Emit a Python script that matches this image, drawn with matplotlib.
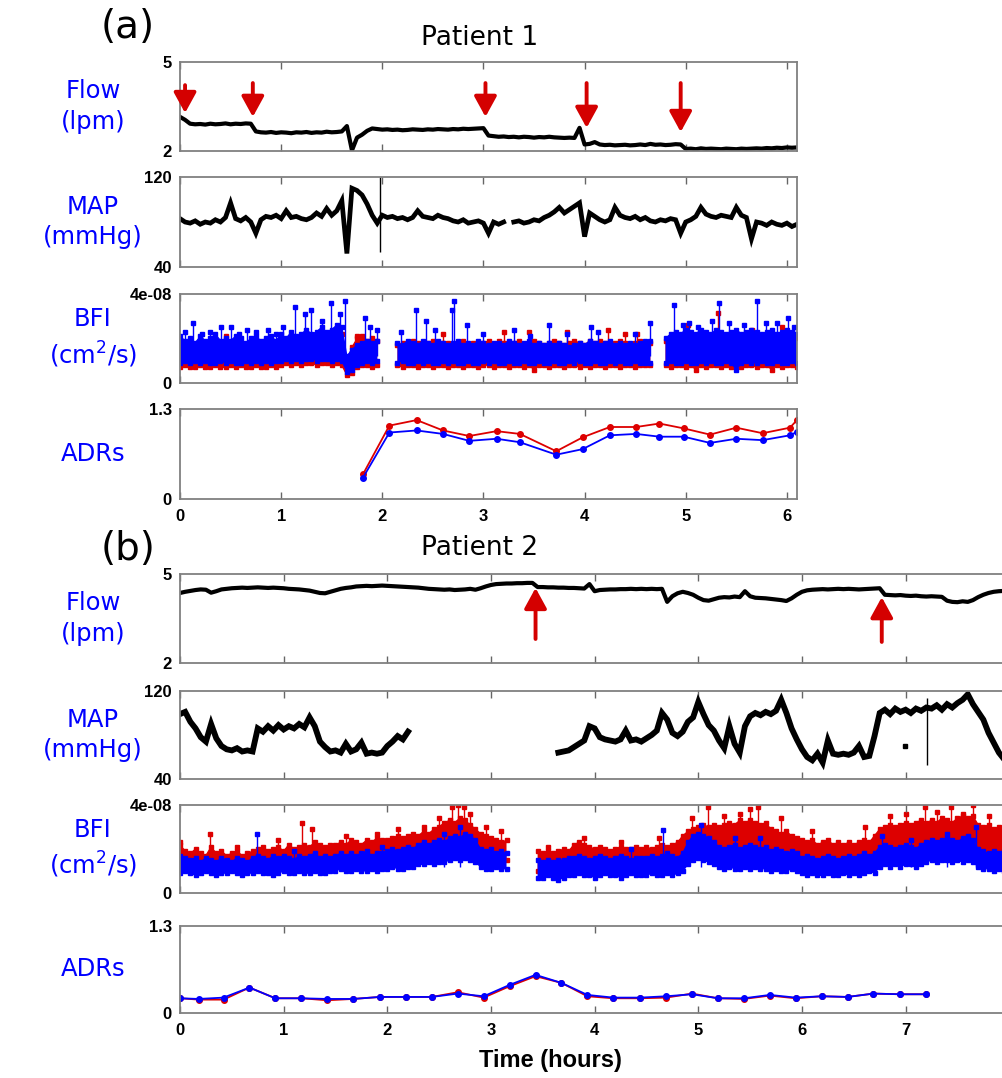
import matplotlib.pyplot as plt
import numpy as np

DT = 0.05  # hours between samples of the monitor traces

RED = "#dd0000"
BLUE = "#0000ff"
ARROW = "#d40000"

# ---------------- Patient 1 ----------------
p1_flow = [3.15, 3.05,
           2.92, 2.90, 2.91, 2.89, 2.92, 2.90, 2.91, 2.93, 2.90, 2.92, 2.91, 2.93,
           2.92,
           2.66, 2.63, 2.62, 2.64, 2.61, 2.63, 2.62, 2.60, 2.63, 2.62, 2.64, 2.61, 2.63, 2.62, 2.65, 2.63, 2.64, 2.66,
           2.84, 2.02, 2.45, 2.55, 2.68, 2.76, 2.74,
           2.72, 2.73, 2.71, 2.72, 2.70, 2.71, 2.73, 2.72, 2.71, 2.73, 2.72, 2.74, 2.73, 2.72, 2.74, 2.73, 2.75, 2.74, 2.75, 2.76,
           2.77, 2.52,
           2.50, 2.48, 2.49, 2.47, 2.48, 2.46, 2.48, 2.47, 2.45, 2.47, 2.46, 2.48, 2.46, 2.45, 2.44, 2.45, 2.44,
           2.78, 2.22, 2.24, 2.30,
           2.22, 2.20, 2.21, 2.19, 2.20, 2.21, 2.19, 2.20, 2.22, 2.20, 2.24, 2.21, 2.22, 2.20, 2.21, 2.23,
           2.22,
           2.07, 2.08, 2.06, 2.09, 2.07, 2.08, 2.07, 2.06, 2.08, 2.07, 2.06, 2.08, 2.07, 2.08, 2.09, 2.08, 2.10, 2.09,
           2.11, 2.10, 2.12, 2.11, 2.12]
p1_arrow_t = [0.05, 0.72, 3.02, 4.02, 4.95]
p1_arrow_tail = [4.22, 4.29, 4.29, 4.29, 4.29]
p1_arrow_tip = [3.28, 3.15, 3.15, 2.78, 2.64]

p1_map = [83, 80, 79, 81, 78, 80, 79, 82, 80, 84,
          97, 83, 81, 84, 80,
          70,
          82, 85, 84, 86, 83, 90, 84, 85, 83, 82,
          84, 88, 85, 92, 86, 90,
          99, 52, 110, 108, 104, 96, 86, 79,
          86, 84, 85, 83, 84, 82, 84, 90, 85, 84,
          83, 86, 84, 83, 81, 80, 82, 79, 80, 81,
          79, 70, 80, 78, 80,
          np.nan,
          80, 81, 79, 80, 82, 81, 84, 86, 89, 93,
          88, 91, 94, 97,
          67,
          88, 85, 82, 80, 82,
          93,
          86, 84, 83, 85, 82, 84, 81, 80, 82, 81, 83, 82,
          70,
          80, 82, 85, 93, 87, 85, 84, 86, 85, 84,
          93, 86, 84, 65,
          80, 79, 77, 80, 78, 77, 79, 76, 78]
p1_map_artifact = (1.98, 53, 120)

# blood flow index, units of 1e-8 cm^2/s (dense band: low / high envelope)
p1_blue_lo = [0.9, 1.0, 0.9, 1.0, 0.9, 1.0, 0.9, 0.9, 1.0, 0.9, 1.0, 0.9, 0.9, 1.0, 0.9, 1.0, 0.9, 1.0, 0.9, 1.0,
              1.0, 1.1, 1.0, 1.1, 1.0, 1.1, 1.1, 1.0, 1.1, 1.1, 1.0, 1.1,
              1.0, 0.5, 0.6, 0.8, 0.9, 1.0, 0.9, 1.0,
              np.nan, np.nan, np.nan,
              0.9, 1.0, 0.9, 0.9, 1.0, 0.9, 1.0, 0.9, 0.9, 1.0,
              0.9, 1.0, 0.9, 0.9, 1.0, 0.9, 0.9, 1.0, 0.9, 1.0,
              0.9, 0.9, 1.0, 0.9, 0.9, 1.0, 0.9, 0.9, 1.0, 0.9,
              0.9, 1.0, 0.9, 0.9, 1.0, 0.9, 1.0, 0.9, 0.9, 1.0,
              0.9, 0.9, 1.0, 0.9, 1.0, 0.9, 0.9, 1.0, 0.9, 0.9,
              0.9, np.nan, np.nan,
              0.9, 1.0, 0.9, 0.9, 1.0, 0.9, 0.9, 1.0, 0.9, 1.0,
              0.9, 0.9, 1.0, 0.9, 0.6, 0.9, 1.0, 0.9, 0.9, 1.0,
              0.9, 0.9, 1.0, 0.9, 0.9, 1.0, 0.9]
p1_blue_hi = [2.1, 1.9, 2.0, 1.8, 2.1, 1.9, 2.0, 2.2, 1.9, 2.0, 1.9, 2.1, 2.0, 1.8, 2.0, 2.1, 1.9, 2.0, 2.1, 1.9,
              2.2, 2.0, 2.3, 2.1, 2.2, 2.4, 2.2, 2.3, 2.5, 2.3, 2.4, 2.6,
              2.5, 1.2, 1.5, 1.7, 1.8, 1.9, 1.8, 1.9,
              np.nan, np.nan, np.nan,
              1.8, 1.7, 1.9, 1.8, 1.7, 1.9, 1.8, 1.7, 1.9, 1.8,
              1.7, 1.8, 1.9, 1.7, 1.8, 1.7, 1.9, 1.8, 1.7, 1.8,
              1.8, 1.7, 1.9, 1.8, 1.7, 1.8, 1.9, 1.7, 1.8, 1.7,
              1.8, 1.7, 1.8, 1.7, 1.6, 1.7, 1.8, 1.7, 1.9, 1.8,
              1.7, 1.8, 1.9, 1.7, 1.8, 1.7, 1.8, 1.7, 1.8, 1.9,
              1.9, np.nan, np.nan,
              2.0, 2.2, 2.3, 2.2, 2.4, 2.3, 2.2, 2.4, 2.3, 2.2,
              2.4, 2.3, 2.2, 2.3, 2.4, 2.2, 2.3, 2.4, 2.3, 2.2,
              2.3, 2.4, 2.2, 2.3, 2.4, 2.3, 2.2]
p1_red_lo = [0.7, 0.8, 0.7, 0.7, 0.8, 0.7, 0.7, 0.8, 0.7, 0.7, 0.8, 0.7, 0.8, 0.7, 0.7, 0.8, 0.7, 0.7, 0.8, 0.7,
             0.8, 0.9, 0.8, 0.9, 0.8, 0.9, 0.9, 0.8, 0.9, 0.9, 0.8, 0.9,
             0.8, 0.35, 0.45, 0.7, 0.8, 0.8, 0.7, 0.8,
             np.nan, np.nan, np.nan,
             0.8, 0.7, 0.8, 0.8, 0.7, 0.8, 0.8, 0.7, 0.8, 0.8,
             0.7, 0.8, 0.8, 0.7, 0.8, 0.8, 0.7, 0.8, 0.8, 0.7,
             0.8, 0.8, 0.7, 0.8, 0.8, 0.7, 0.8, 0.6, 0.8, 0.8,
             0.7, 0.8, 0.8, 0.7, 0.8, 0.8, 0.7, 0.8, 0.7, 0.8,
             0.8, 0.7, 0.8, 0.8, 0.7, 0.8, 0.8, 0.7, 0.8, 0.8,
             0.8, np.nan, np.nan,
             0.8, 0.7, 0.8, 0.8, 0.7, 0.8, 0.6, 0.8, 0.7, 0.8,
             0.8, 0.7, 0.8, 0.7, 0.8, 0.7, 0.8, 0.8, 0.7, 0.8,
             0.8, 0.6, 0.8, 0.7, 0.8, 0.8, 0.7]
p1_red_hi = [1.8, 1.7, 1.9, 1.7, 1.8, 1.7, 1.9, 1.8, 1.7, 1.8, 1.7, 1.9, 1.8, 1.7, 1.8, 1.9, 1.7, 1.8, 1.9, 1.8,
             1.9, 1.8, 2.0, 1.9, 2.0, 2.1, 2.0, 2.1, 2.2, 2.0, 2.1, 2.2,
             2.2, 1.0, 1.6, 2.0, 2.1, 1.9, 2.0, 1.9,
             np.nan, np.nan, np.nan,
             1.7, 1.8, 1.7, 1.9, 1.8, 1.7, 1.8, 1.9, 1.7, 1.8,
             1.8, 1.7, 1.8, 1.9, 1.7, 1.8, 1.7, 1.8, 1.9, 1.7,
             1.9, 1.8, 1.7, 1.8, 1.9, 1.7, 1.8, 1.9, 1.8, 1.7,
             1.8, 1.9, 1.8, 1.7, 1.8, 1.9, 1.8, 1.7, 1.9, 1.8,
             1.9, 1.8, 1.7, 1.8, 1.9, 1.8, 1.7, 1.8, 1.9, 1.8,
             1.8, np.nan, np.nan,
             1.9, 2.0, 2.1, 2.0, 2.2, 2.1, 2.0, 2.2, 2.1, 2.0,
             2.2, 2.1, 2.0, 2.1, 2.2, 2.0, 2.1, 2.2, 2.1, 2.0,
             2.1, 2.2, 2.0, 2.1, 2.2, 2.1, 2.0]
p1_blue_spike_t = [0.05, 0.13, 0.22, 0.30, 0.41, 0.50, 0.58, 0.66, 0.75, 0.87, 0.95,
                   1.02, 1.14, 1.24, 1.30, 1.40, 1.49, 1.58, 1.63, 1.83, 1.88, 1.95,
                   2.18, 2.33, 2.43, 2.52, 2.69, 2.71, 2.84, 3.00, 3.30, 3.46, 3.65, 3.83,
                   4.06, 4.13, 4.50, 4.65, 4.88, 4.97, 5.03, 5.12, 5.26, 5.33, 5.43, 5.58,
                   5.70, 5.79, 5.90, 6.01, 6.07]
p1_blue_spike_v = [2.3, 2.7, 2.2, 2.3, 2.5, 2.5, 2.2, 2.4, 2.3, 2.4, 2.2,
                   2.5, 3.4, 3.1, 3.3, 2.8, 3.6, 3.1, 3.7, 2.9, 2.5, 2.4,
                   2.3, 3.3, 2.8, 2.4, 3.3, 3.7, 2.6, 2.2, 2.4, 2.1, 2.6, 2.2,
                   2.5, 2.3, 2.2, 2.7, 3.5, 2.6, 2.7, 2.5, 2.8, 3.6, 2.7, 2.6,
                   3.7, 2.7, 2.7, 2.9, 2.5]
p1_red_spike_t = [0.45, 1.75, 2.60, 3.20, 3.45, 3.83, 4.23, 4.40, 4.52, 5.02, 5.32, 5.66, 5.95]
p1_red_spike_v = [2.1, 2.1, 2.2, 2.3, 2.3, 2.3, 2.4, 2.2, 2.2, 2.6, 3.15, 2.4, 2.5]

p1_adr_t = [1.81, 2.07, 2.34, 2.60, 2.86, 3.13, 3.36, 3.72, 3.98, 4.25, 4.51, 4.74, 4.98, 5.24, 5.50, 5.76, 6.03, 6.10]
p1_adr_red = [0.36, 1.06, 1.14, 0.99, 0.91, 0.98, 0.94, 0.69, 0.89, 1.04, 1.04, 1.09, 1.02, 0.93, 1.03, 0.95, 1.03, 1.14]
p1_adr_blue = [0.31, 0.96, 0.99, 0.94, 0.84, 0.87, 0.82, 0.64, 0.72, 0.92, 0.94, 0.90, 0.90, 0.81, 0.87, 0.85, 0.92, 0.97]

# ---------------- Patient 2 ----------------
p2_flow = [4.36, 4.40, 4.43, 4.46, 4.48, 4.47,
           4.37, 4.42,
           4.48, 4.50, 4.52, 4.53, 4.54, 4.53, 4.54, 4.55, 4.54, 4.53, 4.54, 4.53, 4.52, 4.50, 4.49, 4.48,
           4.46, 4.44, 4.40, 4.36, 4.35, 4.40,
           4.45, 4.50, 4.53, 4.55, 4.58, 4.59, 4.60, 4.59, 4.60, 4.61, 4.60, 4.59, 4.58, 4.57, 4.56, 4.55,
           4.54, 4.52, 4.50, 4.49,
           4.48, 4.47, 4.48, 4.46, 4.47, 4.48, 4.50, 4.47, 4.52, 4.58, 4.63, 4.66,
           4.67, 4.68, 4.68, 4.69, 4.69, 4.70, 4.70,
           4.56, 4.56, 4.55, 4.55, 4.54, 4.54, 4.53, 4.53, 4.52, 4.51,
           4.66, 4.42,
           4.46, 4.47, 4.48, 4.48, 4.49, 4.49, 4.50, 4.49, 4.50, 4.49, 4.50, 4.49, 4.50,
           4.06, 4.25, 4.35, 4.40, 4.36, 4.30,
           4.20, 4.12, 4.10, 4.15, 4.20, 4.22, 4.21, 4.24, 4.22,
           4.42, 4.25,
           4.20, 4.19, 4.18, 4.16, 4.14, 4.12, 4.09,
           4.18, 4.30, 4.40, 4.45, 4.47, 4.48, 4.49, 4.48, 4.49, 4.50, 4.49, 4.50, 4.49, 4.48, 4.49, 4.50,
           4.51, 4.52,
           4.30, 4.29, 4.28, 4.29, 4.27, 4.26, 4.27, 4.25, 4.24, 4.25, 4.24, 4.23,
           4.10, 4.06, 4.05, 4.08, 4.06, 4.12,
           4.22, 4.30, 4.36, 4.40, 4.42, 4.43]
p2_arrow_t = [3.43, 6.77]
p2_arrow_tail = [2.81, 2.71]
p2_arrow_tip = [4.53, 4.22]

p2_map = [99, 101, 92, 86, 78, 74, 90, 77, 70, 67, 66, 68, 65, 66, 65,
          86, 83, 88, 84, 89, 85, 88, 86, 90, 87, 96, 88,
          74, 69, 65, 66, 64, 72, 65, 67, 73, 63, 64, 63, 64,
          70, 74, 79, 76, 83] + [np.nan] * 28 + [
          64, 65, 66, 69, 72, 75, 88, 86, 78, 76, 75, 74, 76, 84, 75, 76, 74, 77, 80, 84,
          100, 94, 82, 79, 83, 92, 96, 110, 99, 89, 84, 75, 68, 88, 72, 64,
          88, 97, 100, 98, 101, 99, 102, 112, 100, 86, 76, 67, 60, 57, 63, 55,
          75, 63, 62, 63, 62, 64, 70, 60, 61, 79,
          100, 103, 99, 104, 101, 103, 100, 104, 102, 105, 104, 107, 103, 108, 105, 109,
          112, 117, 108, 101, 94, 82, 73, 64, 58]
p2_map_artifact = (7.21, 53, 114)
p2_map_outlier = (6.99, 70)

p2_blue_lo = [0.9, 1.0, 0.9, 0.8, 0.9, 1.0, 0.9, 0.8, 0.9, 0.9, 1.0, 0.9, 0.8, 0.9,
              0.9, 1.0, 0.9, 0.9, 0.8, 0.9, 1.0, 0.9, 0.9, 1.0, 0.9, 0.9, 1.0, 0.9, 0.9, 1.0,
              1.0, 1.1, 1.0, 1.0, 1.1, 1.0, 1.0, 1.1, 1.0, 1.1,
              1.1, 1.2, 1.1, 1.1, 1.2, 1.2,
              1.3, 1.3, 1.4, 1.3, 1.4, 1.4,
              1.5, 1.6, 1.5, 1.6, 1.5, 1.4,
              1.2, 1.1, 1.1, 1.2, 1.1, 1.1,
              np.nan, np.nan, np.nan, np.nan, np.nan,
              0.7, 0.7, 0.8, 0.7, 0.6, 0.7, 0.8,
              0.8, 0.9, 0.8, 0.8, 0.7, 0.8, 0.9, 0.8, 0.8, 0.7, 0.8, 0.9, 0.8, 0.8,
              0.8, 0.9, 0.8, 0.8, 0.9, 0.8, 0.9, 1.0,
              1.3, 1.5, 1.6, 1.5, 1.4, 1.3,
              1.2, 1.1, 1.2, 1.1, 1.1, 1.2, 1.1, 1.2, 1.1, 1.1,
              1.0, 1.1, 1.0, 1.0, 1.1, 1.0,
              0.9, 0.8, 0.9, 0.8, 0.8, 0.9, 0.8, 0.8, 0.9, 0.8, 0.9, 0.8,
              0.9, 1.0, 0.9,
              1.2, 1.3, 1.2, 1.3, 1.2, 1.3, 1.3, 1.2, 1.3,
              1.4, 1.5, 1.4, 1.5, 1.5, 1.4, 1.5, 1.4, 1.5, 1.4,
              1.2, 1.1, 1.1, 1.0, 1.1, 1.0]
p2_blue_hi = [1.7, 1.6, 1.5, 1.6, 1.4, 1.6, 1.5, 1.4, 1.6, 1.5, 1.4, 1.6, 1.5, 1.4,
              1.6, 1.7, 1.6, 1.5, 1.7, 1.6, 1.7, 1.6, 1.5, 1.7, 1.6, 1.7, 1.8, 1.6, 1.7, 1.6,
              1.7, 1.8, 1.7, 1.8, 1.7, 1.8, 1.9, 1.7, 1.8, 1.8,
              1.9, 2.0, 1.9, 2.0, 2.1, 2.0,
              2.2, 2.3, 2.2, 2.3, 2.4, 2.3,
              2.5, 2.6, 2.5, 2.7, 2.6, 2.4,
              2.0, 1.9, 2.0, 1.8, 1.9, 1.8,
              np.nan, np.nan, np.nan, np.nan, np.nan,
              1.5, 1.4, 1.5, 1.4, 1.5, 1.5, 1.6,
              1.6, 1.7, 1.6, 1.5, 1.6, 1.7, 1.6, 1.5, 1.6, 1.7, 1.6, 1.5, 1.6, 1.6,
              1.6, 1.7, 1.6, 1.7, 1.8, 1.7, 1.6, 1.8,
              2.3, 2.6, 2.7, 2.6, 2.5, 2.3,
              2.1, 2.0, 2.1, 2.2, 2.0, 2.1, 2.2, 2.1, 2.0, 2.1,
              1.9, 2.0, 1.9, 1.8, 1.9, 1.8,
              1.6, 1.7, 1.6, 1.5, 1.6, 1.7, 1.6, 1.5, 1.6, 1.7, 1.6, 1.7,
              1.8, 1.7, 1.8,
              2.1, 2.2, 2.1, 2.0, 2.1, 2.2, 2.1, 2.0, 2.2,
              2.3, 2.4, 2.3, 2.4, 2.5, 2.4, 2.3, 2.5, 2.6, 2.4,
              2.0, 1.9, 1.8, 1.9, 1.8, 1.9]
p2_red_lo = [1.2, 1.3, 1.2, 1.1, 1.2, 1.3, 1.2, 1.1, 1.2, 1.2, 1.3, 1.2, 1.1, 1.2,
             1.2, 1.3, 1.2, 1.2, 1.1, 1.2, 1.3, 1.2, 1.2, 1.3, 1.2, 1.2, 1.3, 1.2, 1.2, 1.3,
             1.3, 1.4, 1.3, 1.3, 1.4, 1.3, 1.3, 1.4, 1.3, 1.4,
             1.4, 1.5, 1.4, 1.5, 1.6, 1.6,
             1.7, 1.8, 1.9, 1.8, 1.9, 2.0,
             2.1, 2.2, 2.1, 2.2, 2.0, 1.9,
             1.6, 1.5, 1.5, 1.6, 1.5, 1.5,
             np.nan, np.nan, np.nan, np.nan, np.nan,
             1.0, 1.0, 1.1, 1.0, 0.9, 1.0, 1.1,
             1.1, 1.2, 1.1, 1.1, 1.0, 1.1, 1.2, 1.1, 1.1, 1.0, 1.1, 1.2, 1.1, 1.1,
             1.1, 1.2, 1.1, 1.1, 1.2, 1.1, 1.2, 1.3,
             1.8, 2.0, 2.1, 2.0, 1.9, 1.8,
             1.6, 1.5, 1.6, 1.5, 1.6, 1.7, 1.6, 1.7, 1.6, 1.5,
             1.4, 1.5, 1.4, 1.4, 1.5, 1.4,
             1.2, 1.1, 1.2, 1.1, 1.1, 1.2, 1.1, 1.1, 1.2, 1.1, 1.2, 1.1,
             1.2, 1.3, 1.2,
             1.6, 1.7, 1.6, 1.7, 1.6, 1.7, 1.7, 1.6, 1.7,
             1.9, 2.0, 1.9, 2.0, 2.0, 1.9, 2.0, 1.9, 2.0, 1.9,
             1.6, 1.5, 1.5, 1.4, 1.5, 1.4]
p2_red_hi = [2.2, 1.9, 1.8, 2.0, 1.8, 1.7, 2.1, 1.8, 1.9, 1.7, 1.8, 1.9, 1.7, 1.8,
             1.9, 2.0, 2.1, 1.9, 2.0, 2.1, 1.9, 2.2, 2.0, 2.1, 2.2, 2.1, 2.3, 2.2, 2.1, 2.2,
             2.2, 2.3, 2.2, 2.4, 2.3, 2.2, 2.4, 2.3, 2.5, 2.4,
             2.4, 2.5, 2.6, 2.5, 2.6, 2.7,
             2.6, 2.8, 2.7, 2.9, 3.0, 3.2,
             3.3, 3.2, 3.4, 3.3, 3.1, 2.9,
             2.7, 2.6, 2.5, 2.4, 2.3, 2.4,
             np.nan, np.nan, np.nan, np.nan, np.nan,
             1.9, 1.8, 1.9, 1.8, 1.9, 2.0, 1.9,
             2.2, 2.3, 2.2, 2.1, 2.0, 2.1, 2.0, 1.9, 2.0, 2.1, 2.0, 2.0, 2.1, 2.0,
             2.1, 2.0, 2.1, 2.2, 2.1, 2.2, 2.3, 2.6,
             2.8, 2.9, 3.0, 3.1, 3.0, 3.1,
             3.0, 3.1, 3.2, 3.1, 3.3, 3.2, 3.3, 3.2, 3.1, 3.2,
             2.9, 2.8, 2.7, 2.8, 2.6, 2.5,
             2.4, 2.3, 2.4, 2.2, 2.3, 2.4, 2.2, 2.3, 2.2, 2.3, 2.2, 2.3,
             2.4, 2.3, 2.6,
             2.9, 3.0, 3.1, 3.0, 3.1, 3.2, 3.1, 3.2, 3.3,
             3.2, 3.3, 3.2, 3.4, 3.3, 3.2, 3.4, 3.5, 3.4, 3.5,
             3.1, 3.0, 3.1, 2.9, 3.0, 2.9]
p2_red_spike_t = [0.00, 0.29, 0.55, 0.95, 1.18, 1.27, 1.60, 1.90, 2.10, 2.35, 2.50, 2.62, 2.68,
                  2.74, 2.80, 2.95, 3.10, 3.55, 3.90, 4.25, 4.62, 4.94, 5.09, 5.25, 5.40, 5.50,
                  5.58, 5.80, 6.10, 6.61, 6.85, 7.00, 7.19, 7.30, 7.44, 7.55, 7.65, 7.80]
p2_red_spike_v = [2.3, 2.7, 2.1, 2.4, 3.2, 2.9, 2.6, 2.7, 2.9, 3.0, 3.4, 3.9, 4.0,
                  3.9, 3.6, 3.0, 2.8, 2.1, 2.5, 2.3, 2.5, 3.4, 3.9, 3.5, 3.6, 3.8,
                  3.9, 3.4, 2.8, 3.0, 3.5, 3.6, 3.9, 3.7, 3.9, 3.6, 4.0, 3.5]
p2_blue_spike_t = [0.74, 1.10, 1.95, 2.55, 2.70, 4.35, 4.66, 5.03, 5.35, 5.60, 6.77, 7.05, 7.40, 7.68]
p2_blue_spike_v = [2.7, 1.9, 2.1, 2.7, 3.0, 2.0, 2.85, 3.1, 2.5, 2.5, 2.6, 2.4, 2.7, 3.0]

p2_adr_t = [0.00, 0.18, 0.42, 0.67, 0.92, 1.17, 1.42, 1.67, 1.93, 2.18, 2.43, 2.68, 2.93, 3.18, 3.43,
            3.68, 3.93, 4.18, 4.44, 4.69, 4.94, 5.19, 5.44, 5.69, 5.94, 6.19, 6.44, 6.69, 6.95, 7.20]
p2_adr_red = [0.22, 0.20, 0.20, 0.38, 0.22, 0.22, 0.19, 0.21, 0.24, 0.24, 0.24, 0.31, 0.23, 0.40, 0.55,
              0.45, 0.25, 0.22, 0.22, 0.23, 0.29, 0.22, 0.21, 0.26, 0.22, 0.25, 0.24, 0.29, 0.28, 0.28]
p2_adr_blue = [0.22, 0.21, 0.23, 0.38, 0.22, 0.22, 0.21, 0.21, 0.24, 0.24, 0.24, 0.29, 0.25, 0.42, 0.57,
               0.45, 0.27, 0.23, 0.23, 0.25, 0.28, 0.22, 0.22, 0.27, 0.23, 0.25, 0.24, 0.29, 0.28, 0.28]

row_labels = ["Flow\n(lpm)", "MAP\n(mmHg)", "BFI\n(cm$^2$/s)", "ADRs"]
row_ylims = [(2, 5), (40, 120), (0, 4), (0, 1.3)]
row_yticklabels = [["2", "5"], ["40", "120"], ["0", "4e-08"], ["0", "1.3"]]

# ---------------- layout (pixels of a 1002 x 1078 canvas) ----------------
W, H = 1002, 1078
fig = plt.figure(figsize=(W / 100, H / 100), dpi=100)


def px_axes(left, top, right, bottom):
    return fig.add_axes([left / W, 1 - bottom / H, (right - left) / W, (bottom - top) / H])


def style(ax, xmax, row, show_x, right_spine=True):
    ax.set_xlim(0, xmax)
    ax.set_ylim(*row_ylims[row])
    ax.set_yticks(row_ylims[row])
    ax.set_yticklabels(row_yticklabels[row])
    ax.set_xticks(range(0, int(xmax) + 1))
    ax.tick_params(axis="x", direction="in", top=True, length=5, width=1.0,
                   color="#666666", labelbottom=show_x, pad=7, labelsize=12)
    ax.tick_params(axis="y", length=0, pad=6, labelsize=12)
    for lbl in ax.get_xticklabels() + ax.get_yticklabels():
        lbl.set_family("Liberation Sans")
        lbl.set_weight("bold")
    for name, sp in ax.spines.items():
        sp.set_color("#808080")
        sp.set_linewidth(1.3)
    if not right_spine:
        ax.spines["right"].set_visible(False)


def draw_bfi(ax, lo, hi, sp_t, sp_v, color, base, z):
    t = np.arange(len(lo)) * DT
    ax.vlines(sp_t, base, sp_v, color=color, lw=1.0, zorder=z)
    ax.plot(sp_t, sp_v, "s", ms=2.6, color=color, zorder=z)
    ax.fill_between(t, lo, hi, color=color, lw=0, zorder=z + 0.1)
    ax.plot(t, hi, "-s", ms=2.2, lw=0.9, color=color, zorder=z + 0.1)
    ax.plot(t, lo, "-s", ms=2.2, lw=0.9, color=color, zorder=z + 0.1)


def arrows(ax, ts, tails, tips):
    for t, a, b in zip(ts, tails, tips):
        ax.annotate("", xy=(t, b), xytext=(t, a),
                    arrowprops=dict(arrowstyle="-|>,head_width=0.34,head_length=0.62",
                                    lw=2.8, color=ARROW, mutation_scale=20,
                                    shrinkA=0, shrinkB=0))


def patient(tops, right, xmax, flow, arr, mp, map_lw, art, bfi, adr, full_right=True):
    axs = [px_axes(180, top, right, bot) for top, bot in tops]

    t = np.arange(len(flow)) * DT
    axs[0].plot(t, flow, color="k", lw=3.0)
    arrows(axs[0], *arr)

    t = np.arange(len(mp)) * DT
    axs[1].plot(t, mp, color="k", lw=map_lw, solid_joinstyle="miter")
    axs[1].vlines(art[0], art[1], art[2], color="k", lw=1.0)

    (rlo, rhi, rst, rsv), (blo, bhi, bst, bsv), rbase, bbase = bfi
    draw_bfi(axs[2], rlo, rhi, rst, rsv, RED, rbase, 1)
    draw_bfi(axs[2], blo, bhi, bst, bsv, BLUE, bbase, 2)

    at, ar, ab = adr
    axs[3].plot(at, ar, "-o", color=RED, ms=4, lw=1.3)
    axs[3].plot(at, ab, "-o", color=BLUE, ms=4, lw=1.3)

    for i, ax in enumerate(axs):
        style(ax, xmax, i, show_x=(i == 3), right_spine=full_right)
        top, bot = tops[i]
        fig.text(93 / W, 1 - (top + bot) / 2 / H, row_labels[i], color=BLUE, fontsize=17.5,
                 ha="center", va="center", linespacing=1.35)
    return axs


p1_axes = patient([(62, 151), (177, 267), (294, 383), (409, 499)], 797, 6.1,
                  p1_flow, (p1_arrow_t, p1_arrow_tail, p1_arrow_tip),
                  p1_map, 3.4, p1_map_artifact,
                  ((p1_red_lo, p1_red_hi, p1_red_spike_t, p1_red_spike_v),
                   (p1_blue_lo, p1_blue_hi, p1_blue_spike_t, p1_blue_spike_v), 1.2, 1.2),
                  (p1_adr_t, p1_adr_red, p1_adr_blue))

p2_axes = patient([(574, 663), (691, 779), (805, 893), (926, 1013)], 1002, 7.93,
                  p2_flow, (p2_arrow_t, p2_arrow_tail, p2_arrow_tip),
                  p2_map, 4.2, p2_map_artifact,
                  ((p2_red_lo, p2_red_hi, p2_red_spike_t, p2_red_spike_v),
                   (p2_blue_lo, p2_blue_hi, p2_blue_spike_t, p2_blue_spike_v), 2.0, 1.2),
                  (p2_adr_t, p2_adr_red, p2_adr_blue), full_right=False)
p2_axes[1].plot(*p2_map_outlier, "s", ms=2.2, color="k")

fig.text(128 / W, 1 - 27 / H, "(a)", fontsize=28, ha="center", va="center")
fig.text(480 / W, 1 - 38 / H, "Patient 1", fontsize=19, ha="center", va="center")
fig.text(128 / W, 1 - 549 / H, "(b)", fontsize=28, ha="center", va="center")
fig.text(480 / W, 1 - 548 / H, "Patient 2", fontsize=19, ha="center", va="center")
fig.text(550 / W, 1 - 1060 / H, "Time (hours)", fontsize=17, fontweight="bold",
         family="Liberation Sans", ha="center", va="center")

fig.savefig("out.png", dpi=100)
